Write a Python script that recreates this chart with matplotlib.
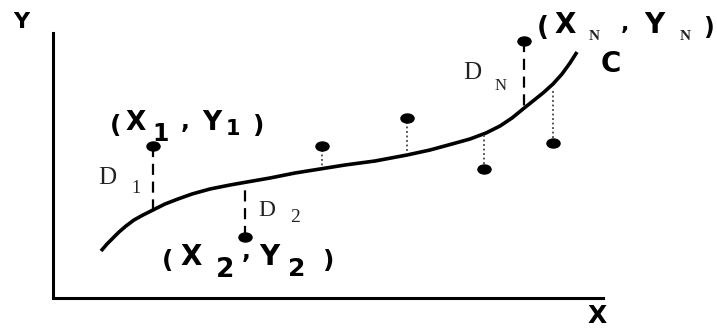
import numpy as np
import matplotlib.pyplot as plt
from matplotlib.markers import MarkerStyle
from matplotlib.transforms import Affine2D

# picture is drawn in its own pixel space (x right, y down)
curve_x = [101, 107, 113, 119, 126, 134, 143, 153, 165, 178, 192, 210, 230,
           247, 270, 295, 320, 345, 375, 407, 430, 452, 470, 486, 500, 512,
           523, 533, 543, 553, 562, 570, 577]
curve_y = [251, 244, 238, 232, 226, 220, 215, 210, 204, 199, 194, 189, 185,
           182, 178, 173, 169, 165, 161, 155, 150, 144, 139, 133, 126, 118,
           109, 101, 93, 84, 74, 63, 52]

pt_x = [153, 245, 322, 407, 484, 553, 524]
pt_y = [146, 237, 146, 118, 169, 143, 41]
fit_y = [210, 182, 166, 154, 135, 91, 108]     # where each residual meets C
dashed = [True, True, False, False, False, False, True]

axis_x = [53, 53, 603]
axis_y = [33, 298, 298]

fig = plt.figure(figsize=(7.17, 3.28), dpi=100)
ax = fig.add_axes([0, 0, 1, 1])
ax.set_xlim(0, 717)
ax.set_ylim(328, 0)
ax.axis('off')

ax.plot(axis_x, axis_y, color='black', lw=2.2, solid_joinstyle='miter')
ax.plot(curve_x, curve_y, color='black', lw=2.6, solid_capstyle='butt',
        solid_joinstyle='round')

for x, y, f, d in zip(pt_x, pt_y, fit_y, dashed):
    if d:
        ax.plot([x, x], [y, f], color='black', lw=1.6, ls=(0, (5, 3)))
    else:
        ax.plot([x, x], [y + 4, f], color='#444444', lw=1.3, ls=(0, (1, 1.5)))

dot = MarkerStyle('o', transform=Affine2D().scale(1.45, 1.0))
ax.plot(pt_x, pt_y, ls='none', marker=dot, ms=6.5, color='black')

bold = dict(family='DejaVu Sans', weight='bold', color='black',
            ha='center', va='baseline')
serif = dict(family='Liberation Serif', color='#222222',
             ha='center', va='baseline')


def pieces(parts, style):
    for s, x, y, size in parts:
        ax.text(x, y, s, fontsize=size, **style)


# axis names and curve name
pieces([('Y', 21, 28, 16), ('X', 597, 323, 18), ('C', 611, 72, 20)], bold)

# point labels
pieces([('(', 116, 133, 18), ('X', 136, 130, 19), ('1', 161, 141, 17),
        (',', 185, 128, 17), ('Y', 212, 130, 19), ('1', 233, 135, 15),
        (')', 259, 133, 18)], bold)
pieces([('(', 168, 268, 18), ('X', 191, 265, 20), ('2', 225, 277, 19),
        (',', 246, 258, 17), ('Y', 269, 265, 20), ('2', 297, 276, 18),
        (')', 329, 268, 18)], bold)
pieces([('(', 543, 35, 19), ('X', 565, 33, 20), (',', 625, 30, 16),
        ('Y', 654, 33, 20), (')', 708, 35, 17)], bold)
pieces([('N', 594, 40, 11), ('N', 685, 40, 11)],
       dict(serif, weight='bold'))

# residual labels
pieces([('D', 107, 184, 18), ('1', 136, 193, 13),
        ('D', 267, 216, 17), ('2', 295, 222, 14),
        ('D', 472, 79, 18), ('N', 501, 90, 12)], serif)

fig.savefig('out.png', dpi=100)
